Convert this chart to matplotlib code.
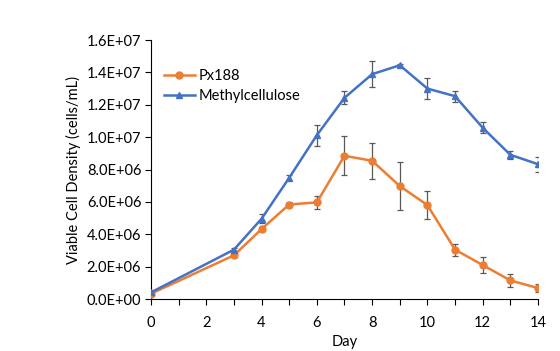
import matplotlib
matplotlib.use("Agg")
import matplotlib.pyplot as plt
import numpy as np

days = [0, 3, 4, 5, 6, 7, 8, 9, 10, 11, 12, 13, 14]
px188 = [0.33e6, 2.70e6, 4.32e6, 5.84e6, 5.97e6, 8.85e6, 8.54e6, 6.98e6, 5.80e6, 3.05e6, 2.10e6, 1.15e6, 0.68e6]
px188_err = [0.05e6, 0.08e6, 0.10e6, 0.15e6, 0.42e6, 1.20e6, 1.11e6, 1.48e6, 0.86e6, 0.37e6, 0.52e6, 0.40e6, 0.25e6]
mc = [0.41e6, 3.05e6, 4.96e6, 7.49e6, 10.12e6, 12.43e6, 13.89e6, 14.44e6, 13.0e6, 12.53e6, 10.58e6, 8.91e6, 8.33e6]
mc_err = [0.05e6, 0.12e6, 0.27e6, 0.16e6, 0.66e6, 0.39e6, 0.80e6, 0.10e6, 0.63e6, 0.33e6, 0.34e6, 0.24e6, 0.47e6]
ytick_vals = np.arange(0, 1.61e7, 2e6)
ytick_labels = ["0.0E+00", "2.0E+06", "4.0E+06", "6.0E+06", "8.0E+06",
                "1.0E+07", "1.2E+07", "1.4E+07", "1.6E+07"]

plt.rcParams['font.family'] = ['Lato', 'DejaVu Sans']
plt.rcParams['font.size'] = 10

fig = plt.figure(figsize=(5.6, 3.51), dpi=100)
ax = fig.add_axes([0.2696, 0.148, 0.6911, 0.738])

ax.errorbar(days, px188, yerr=px188_err, color="#ED7D31", marker="o", markersize=5,
            linewidth=1.8, ecolor="#595959", elinewidth=0.9, capsize=2.5, capthick=0.9,
            label="Px188", zorder=3)
ax.errorbar(days, mc, yerr=mc_err, color="#4472C4", marker="^", markersize=5,
            linewidth=1.8, ecolor="#595959", elinewidth=0.9, capsize=2.5, capthick=0.9,
            label="Methylcellulose", zorder=3)

ax.set_xlim(0, 14)
ax.set_ylim(0, 1.6e7)
ax.set_xticks(np.arange(0, 15, 2))
ax.set_xticks(np.arange(0, 15, 1), minor=True)
ax.set_yticks(ytick_vals)
ax.set_yticklabels(ytick_labels)
ax.tick_params(axis="x", which="both", direction="out", length=4, width=0.8, color="black", pad=8,
               labelsize=10.5)
ax.tick_params(axis="y", direction="out", length=4, width=0.8, color="black", pad=3, labelsize=10.5)
ax.spines["top"].set_visible(False)
ax.spines["right"].set_visible(False)
for s in ["left", "bottom"]:
    ax.spines[s].set_linewidth(0.8)
ax.set_xlabel("Day", labelpad=4, fontsize=10.5)
ax.set_ylabel("Viable Cell Density (cells/mL)", labelpad=4, fontsize=10.5)

handles, labels = ax.get_legend_handles_labels()
handles = [h[0] for h in handles]
ax.legend(handles, labels, loc="upper left", bbox_to_anchor=(0.0, 0.94), frameon=False,
          handlelength=2.1, handletextpad=0.3, labelspacing=0.45, fontsize=10.5)

fig.savefig("out.png", dpi=100)
